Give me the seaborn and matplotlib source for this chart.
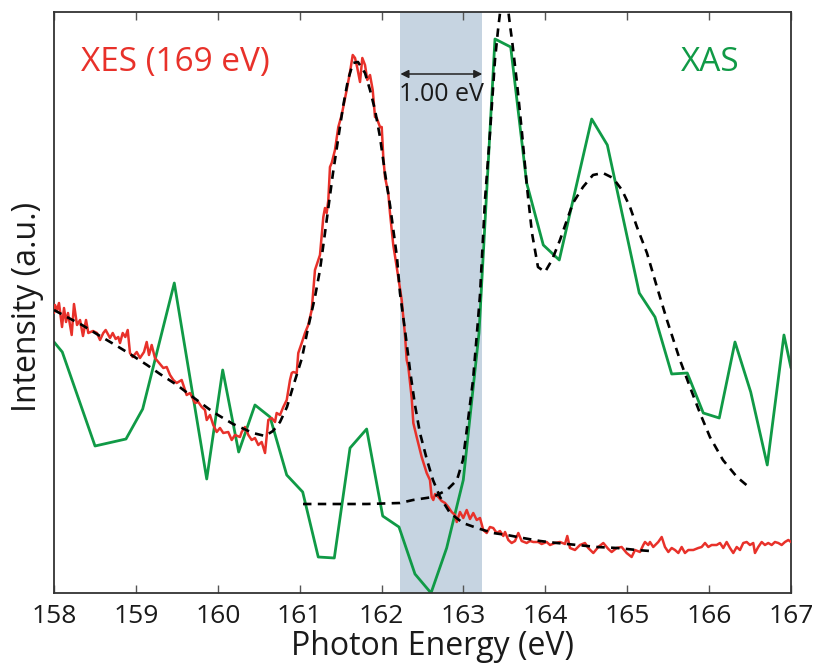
import numpy as np
import pandas as pd
import matplotlib
matplotlib.use("Agg")
import matplotlib.pyplot as plt
import seaborn as sns

# ---------------- data (photon energy in eV, intensity in a.u.) ----------------
xes_energy = [
    158.000, 158.012, 158.037, 158.061, 158.098, 158.122, 158.147, 158.171, 158.216, 158.244,
    158.281, 158.318, 158.354, 158.391, 158.419, 158.476, 158.525, 158.562, 158.602, 158.631,
    158.684, 158.717, 158.753, 158.785, 158.806, 158.839, 158.871, 158.900, 158.928, 158.961,
    159.010, 159.050, 159.099, 159.132, 159.160, 159.193, 159.233, 159.274, 159.335, 159.376,
    159.417, 159.457, 159.498, 159.559, 159.620, 159.661, 159.722, 159.762, 159.804, 159.844,
    159.865, 159.905, 159.945, 159.987, 160.027, 160.067, 160.128, 160.170, 160.210, 160.271,
    160.292, 160.332, 160.373, 160.414, 160.454, 160.495, 160.536, 160.577, 160.597, 160.617,
    160.658, 160.699, 160.719, 160.760, 160.800, 160.842, 160.882, 160.903, 160.922, 160.964,
    160.983, 161.025, 161.065, 161.105, 161.147, 161.187, 161.248, 161.289, 161.309, 161.330,
    161.350, 161.370, 161.391, 161.431, 161.472, 161.513, 161.574, 161.615, 161.648, 161.676,
    161.704, 161.737, 161.765, 161.798, 161.826, 161.859, 161.892, 161.920, 161.941, 161.981,
    162.002, 162.021, 162.042, 162.082, 162.103, 162.143, 162.185, 162.246, 162.286, 162.307,
    162.327, 162.368, 162.388, 162.429, 162.490, 162.551, 162.591, 162.612, 162.632, 162.653,
    162.693, 162.734, 162.775, 162.815, 162.856, 162.897, 162.918, 162.958, 162.998, 163.040,
    163.080, 163.120, 163.162, 163.202, 163.242, 163.284, 163.324, 163.364, 163.406, 163.446,
    163.487, 163.508, 163.548, 163.589, 163.630, 163.670, 163.711, 163.772, 163.813, 163.853,
    163.914, 163.955, 164.016, 164.057, 164.118, 164.179, 164.240, 164.268, 164.301, 164.362,
    164.423, 164.484, 164.524, 164.586, 164.647, 164.708, 164.769, 164.810, 164.871, 164.932,
    164.993, 165.054, 165.095, 165.156, 165.196, 165.217, 165.257, 165.278, 165.318, 165.379,
    165.421, 165.461, 165.502, 165.543, 165.583, 165.624, 165.665, 165.705, 165.746, 165.807,
    165.868, 165.909, 165.950, 165.990, 166.031, 166.092, 166.133, 166.173, 166.214, 166.255,
    166.295, 166.337, 166.377, 166.417, 166.459, 166.499, 166.539, 166.560, 166.600, 166.642,
    166.682, 166.722, 166.764, 166.804, 166.845, 166.886, 166.926, 166.967, 167.000,
]
xes_intensity = [
    280, 288, 283, 290, 266, 285, 271, 280, 258, 289,
    268, 273, 257, 273, 260, 262, 260, 253, 260, 263,
    255, 260, 254, 256, 250, 260, 256, 263, 240, 236,
    241, 235, 241, 251, 238, 248, 235, 231, 225, 226,
    218, 213, 210, 213, 198, 200, 190, 191, 186, 183,
    173, 178, 168, 161, 165, 160, 161, 153, 158, 156,
    161, 166, 158, 153, 155, 148, 151, 140, 156, 173,
    175, 171, 180, 178, 186, 193, 213, 220, 221, 220,
    240, 250, 260, 268, 283, 323, 338, 376, 385, 380,
    393, 426, 430, 443, 466, 478, 503, 521, 538, 535,
    525, 511, 535, 528, 513, 518, 503, 476, 475, 466,
    466, 436, 416, 400, 380, 348, 326, 293, 258, 233,
    226, 195, 170, 156, 136, 120, 113, 96, 93, 99,
    96, 92, 90, 86, 81, 78, 71, 81, 75, 83,
    74, 80, 73, 75, 63, 60, 66, 65, 60, 62,
    57, 61, 53, 50, 52, 60, 52, 50, 52, 51,
    51, 49, 51, 48, 50, 51, 49, 57, 45, 43,
    48, 50, 45, 40, 46, 50, 44, 41, 45, 46,
    40, 36, 43, 41, 48, 51, 48, 51, 46, 51,
    56, 46, 41, 45, 43, 40, 46, 40, 43, 43,
    45, 46, 50, 46, 48, 48, 50, 45, 51, 45,
    40, 46, 43, 50, 51, 48, 50, 40, 46, 51,
    48, 50, 48, 51, 50, 48, 51, 53, 51,
]

xes_fit_energy = [
    158.000, 158.134, 158.342, 158.562, 158.769, 158.928, 159.136, 159.294, 159.502, 159.661,
    159.942, 160.186, 160.430, 160.577, 160.674, 160.760, 160.845, 160.918, 161.028, 161.102,
    161.187, 161.248, 161.309, 161.407, 161.468, 161.529, 161.590, 161.651, 161.712, 161.798,
    161.859, 161.920, 161.981, 162.042, 162.103, 162.188, 162.225, 162.286, 162.347, 162.408,
    162.469, 162.555, 162.628, 162.714, 162.836, 162.994, 163.165, 163.361, 163.532, 163.727,
    163.935, 164.142, 164.387, 164.631, 164.875, 165.119, 165.278,
]
xes_fit_intensity = [
    283, 277, 268, 257, 247, 239, 228, 219, 208, 198,
    181, 169, 160, 157, 162, 171, 186, 206, 235, 265,
    296, 323, 360, 420, 453, 486, 513, 530, 531, 520,
    503, 483, 456, 420, 388, 336, 300, 263, 223, 188,
    160, 133, 113, 96, 80, 70, 65, 60, 58, 55,
    52, 50, 48, 46, 45, 43, 42,
]

xas_energy = [
    158.000, 158.101, 158.501, 158.879, 159.083, 159.469, 159.865, 160.060, 160.255, 160.454,
    160.638, 160.842, 161.037, 161.227, 161.423, 161.615, 161.818, 162.014, 162.213, 162.408,
    162.604, 162.795, 162.998, 163.190, 163.385, 163.577, 163.772, 163.975, 164.170, 164.566,
    164.757, 165.147, 165.339, 165.543, 165.733, 165.929, 166.124, 166.316, 166.508, 166.710,
    166.914, 167.000,
]
xas_intensity = [
    251, 241, 147, 154, 184, 310, 114, 223, 141, 188,
    176, 118, 101, 36, 35, 145, 164, 77, 66, 19,
    0, 45, 113, 260, 554, 546, 410, 348, 333, 474,
    448, 300, 276, 219, 220, 180, 175, 251, 201, 128,
    258, 225,
]

xas_fit_energy = [
    161.041, 161.407, 161.822, 162.225, 162.384, 162.628, 162.799, 162.921, 162.994, 163.056,
    163.117, 163.165, 163.202, 163.263, 163.324, 163.385, 163.422, 163.458, 163.495, 163.532,
    163.568, 163.593, 163.654, 163.715, 163.776, 163.837, 163.910, 163.996, 164.081, 164.179,
    164.277, 164.338, 164.460, 164.582, 164.704, 164.826, 164.936, 165.034, 165.119, 165.241,
    165.363, 165.485, 165.644, 165.766, 165.888, 166.010, 166.169, 166.340, 166.499,
]
xas_fit_intensity = [
    89, 89, 89, 90, 93, 96, 103, 113, 133, 173,
    213, 260, 298, 393, 460, 533, 563, 588, 605, 593,
    568, 553, 510, 460, 406, 360, 326, 321, 333, 353,
    376, 390, 406, 418, 420, 415, 403, 386, 366, 340,
    306, 273, 233, 206, 180, 156, 133, 116, 105,
]

gap_start, gap_end = 162.23, 163.23
gap_label = "1.00 eV"
xticks = [158, 159, 160, 161, 162, 163, 164, 165, 166, 167]

# ---------------- styling ----------------
sns.set_style("ticks")
plt.rcParams["font.family"] = ["Open Sans", "DejaVu Sans"]

RED = "#e8312a"
GREEN = "#109a46"
BAND = "#c6d4e1"
TXT = "#1a1a1a"

fig = plt.figure(figsize=(8.15, 6.68), dpi=100)
ax = fig.add_axes([54 / 815, 1 - 593 / 668, 737 / 815, 581 / 668])

ax.axvspan(gap_start, gap_end, color=BAND, lw=0, zorder=0)

df_xas = pd.DataFrame({"E": xas_energy, "I": xas_intensity})
df_xas_fit = pd.DataFrame({"E": xas_fit_energy, "I": xas_fit_intensity})
df_xes = pd.DataFrame({"E": xes_energy, "I": xes_intensity})
df_xes_fit = pd.DataFrame({"E": xes_fit_energy, "I": xes_fit_intensity})

sns.lineplot(data=df_xas, x="E", y="I", ax=ax, color=GREEN, linewidth=2.0,
             estimator=None, sort=False, zorder=2)
sns.lineplot(data=df_xes, x="E", y="I", ax=ax, color=RED, linewidth=1.8,
             estimator=None, sort=False, zorder=3)
for d in (df_xes_fit, df_xas_fit):
    sns.lineplot(data=d, x="E", y="I", ax=ax, color="black", linewidth=1.9,
                 estimator=None, sort=False, zorder=4, linestyle=(0, (3.2, 2.4)))

ax.set_xlim(158, 167)
ax.set_ylim(0, 581)
ax.set_xticks(xticks)
ax.set_xticklabels([str(t) for t in xticks])
ax.set_yticks([])

for s in ax.spines.values():
    s.set_color("#333333")
    s.set_linewidth(1.3)

ax.tick_params(axis="x", direction="in", length=6, width=1.0, color="#555555",
               top=True, labeltop=False, pad=8, labelsize=19, labelcolor=TXT)

ax.set_xlabel("Photon Energy (eV)", fontsize=23, color=TXT)
ax.xaxis.set_label_coords(0.513, -0.106)
ax.xaxis.label.set_va("baseline")
ax.set_ylabel("Intensity (a.u.)", fontsize=23, color=TXT)
ax.yaxis.set_label_coords(-0.036, 0.492)
ax.yaxis.label.set_va("center")

# annotations
ax.text(158.33, 522, "XES (169 eV)", color=RED, fontsize=24, ha="left", va="baseline")
ax.text(165.656, 522, "XAS", color=GREEN, fontsize=24, ha="left", va="baseline")
ax.annotate("", xy=(gap_end, 519), xytext=(gap_start, 519),
            arrowprops=dict(arrowstyle="<|-|>", color="#222222", lw=1.1,
                            mutation_scale=12, shrinkA=0, shrinkB=0))
ax.text((gap_start + gap_end) / 2, 492, gap_label, color=TXT, fontsize=18,
        ha="center", va="baseline")

fig.savefig("out.png", dpi=100)
